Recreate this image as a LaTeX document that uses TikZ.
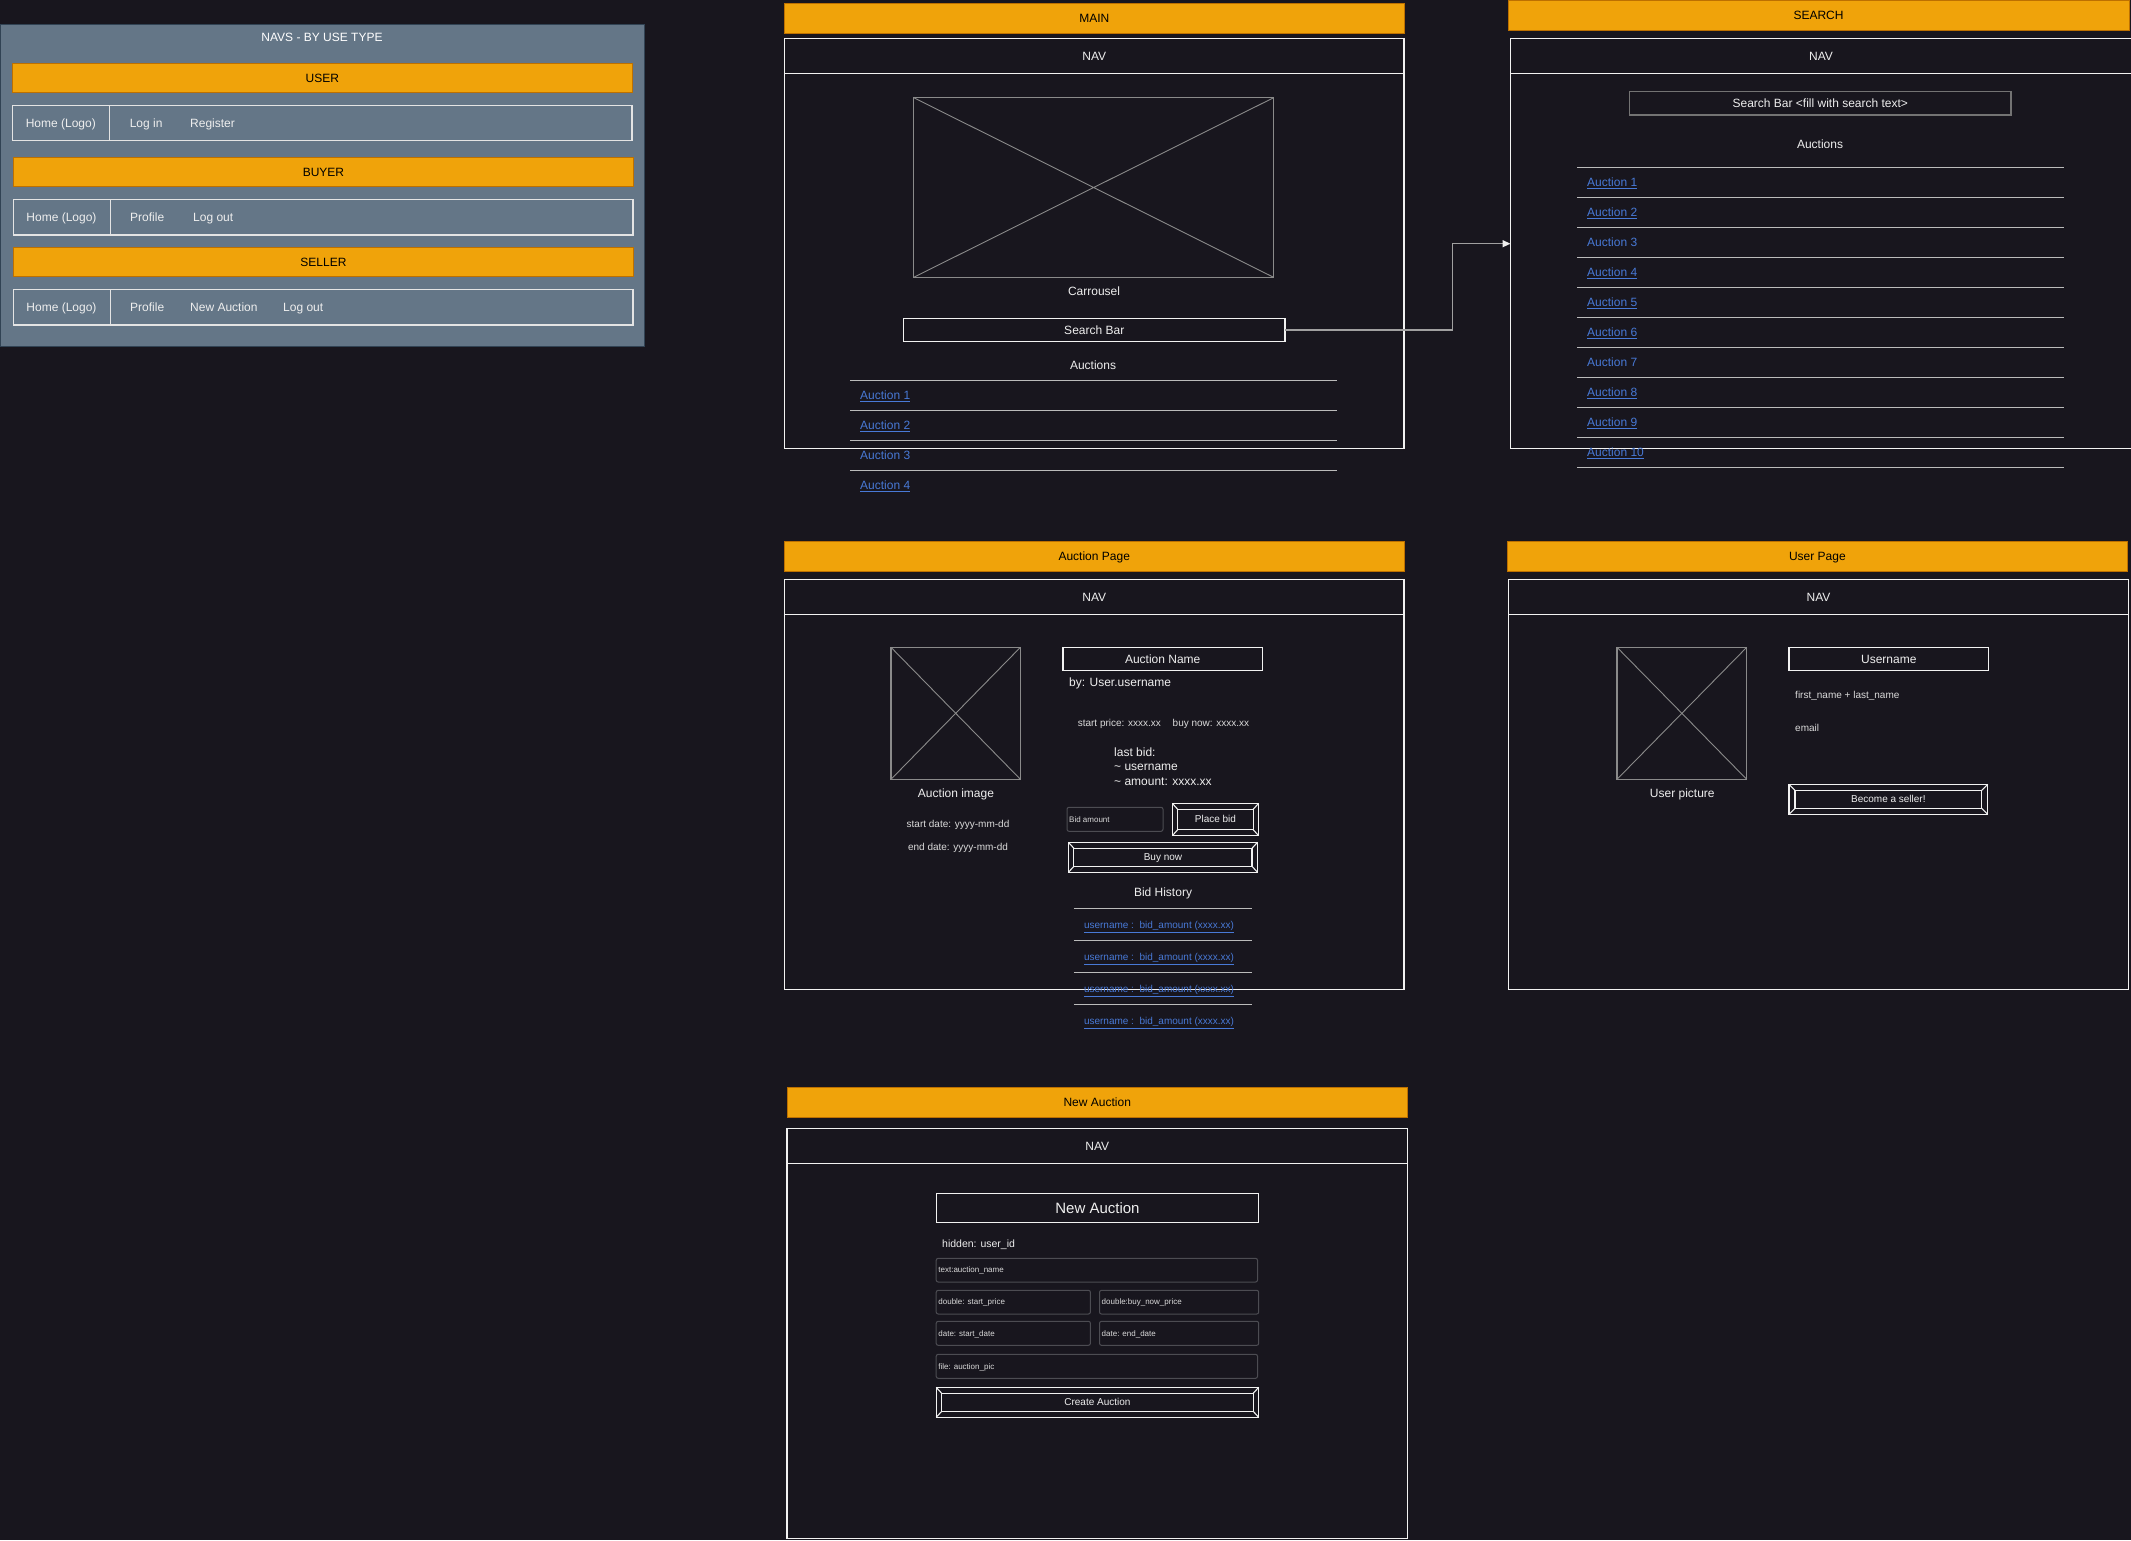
\documentclass[tikz,border=0pt]{standalone}
\usepackage{fontspec}
\setmainfont{Liberation Sans}
\usetikzlibrary{arrows.meta}

\definecolor{bg}{RGB}{24,22,30}
\definecolor{amber}{HTML}{F0A30A}
\definecolor{amberedge}{HTML}{BD7000}
\definecolor{slate}{HTML}{647687}
\definecolor{slateedge}{HTML}{314354}
\definecolor{ink}{HTML}{EEEEEE}
\definecolor{softink}{HTML}{DADADA}
\definecolor{linkblue}{RGB}{72,121,214}
\definecolor{rulegray}{HTML}{BBBBBB}
\definecolor{frameline}{HTML}{F2F2F2}
\definecolor{placeholder}{HTML}{8A8A8A}
\definecolor{fieldedge}{HTML}{4C4C52}
\definecolor{connline}{HTML}{A0A0A0}
\definecolor{rowline}{HTML}{E4E4E4}

\tikzset{
  f8/.style={font=\fontsize{8}{9.6}\selectfont, text height=7.2pt, text depth=1.7pt},
  f10/.style={font=\fontsize{10}{12}\selectfont, text height=9pt, text depth=2.1pt},
  f12/.style={font=\fontsize{12}{14}\selectfont, text height=10.9pt, text depth=2.5pt},
  f15/.style={font=\fontsize{15}{18}\selectfont, text height=13.6pt, text depth=3.2pt},
  box/.style={rectangle, inner sep=0pt, outer sep=0pt},
  panel/.style={box, fill=slate, draw=slateedge, line width=1pt},
  navrow/.style={box, fill=slate, draw=rowline, line width=1.2pt},
  titlebar/.style={box, fill=amber, draw=amberedge, line width=1pt, text=black, f12},
  frame/.style={box, draw=frameline, line width=1.1pt},
  navbar/.style={frame, text=ink, f12},
  imgbox/.style={box, draw=placeholder, line width=1.1pt},
  grayframe/.style={box, draw=placeholder!120, line width=1.2pt, text=ink, f12},
  headbox/.style={frame, line width=1.3pt, text=ink, f12},
  field/.style={box, draw=fieldedge, line width=1pt, rounded corners=2pt},
  btn/.style={frame, line width=1.3pt, text=ink, f10},
  btnline/.style={draw=frameline, line width=1.1pt},
  cross/.style={draw=placeholder, line width=0.9pt},
  txt/.style={inner sep=0pt, text=ink, f12},
  ltxt/.style={txt, anchor=west},
  small/.style={inner sep=0pt, text=softink, f10},
  lsmall/.style={small, anchor=west},
  tiny/.style={inner sep=0pt, anchor=west, text=softink, f8},
  linkitem/.style={inner sep=0pt, anchor=west, text=linkblue, f12},
  smalllink/.style={inner sep=0pt, anchor=west, text=linkblue, f10},
  listrule/.style={draw=rulegray, line width=1.5pt},
  conn/.style={draw=connline, line width=1.4pt, -{Triangle[length=8pt,width=7pt,color=ink]}},
}

% rectangle node given its two corners (x1,y1) (x2,y2)
\newcommand\wfbox[7]{%
  \pgfmathsetmacro\wfcx{(#3+#5)/2}\pgfmathsetmacro\wfcy{(#4+#6)/2}%
  \pgfmathsetmacro\wfw{#5-#3}\pgfmathsetmacro\wfh{#6-#4}%
  \node[#1, minimum width=\wfw pt, minimum height=\wfh pt] (#2) at (\wfcx,\wfcy) {#7};}

% inner frame and corner bevels of a button node
\newcommand\bevelframe[3]{%
  \draw[btnline] ([xshift=#2pt,yshift=-#3pt]#1.north west) rectangle ([xshift=-#2pt,yshift=#3pt]#1.south east);
  \draw[btnline] (#1.north west) -- ([xshift=#2pt,yshift=-#3pt]#1.north west)
                 (#1.north east) -- ([xshift=-#2pt,yshift=-#3pt]#1.north east)
                 (#1.south west) -- ([xshift=#2pt,yshift=#3pt]#1.south west)
                 (#1.south east) -- ([xshift=-#2pt,yshift=#3pt]#1.south east);}

% image placeholder diagonals
\newcommand\crossout[1]{%
  \draw[cross] (#1.north west) -- (#1.south east) (#1.north east) -- (#1.south west);}

\begin{document}
\begin{tikzpicture}[x=1pt,y=-1pt]
\fill[bg] (0,0) rectangle (2131,1540);
\useasboundingbox (0,0) rectangle (2131,1540);

% ---------------- navigation bars by user type ----------------
\wfbox{panel}{navspanel}{0}{24.5}{644}{346}{}
\node[txt, text=white] (navstitle) at (322,37.7) {NAVS - BY USE TYPE};

\wfbox{titlebar}{userbar}{12.6}{63.3}{632}{92.3}{USER}
\wfbox{navrow}{userrow}{12.6}{105.7}{632}{140.7}{}
\coordinate (ud) at (109.8,0);
\draw[draw=rowline, line width=1.2pt] (ud |- userrow.north) -- (ud |- userrow.south);
\node[txt] (uhome) at (60.8,123.2) {Home (Logo)};
\node[ltxt] (ulogin) at (129.6,123.2) {Log in};
\node[ltxt] (ureg) at (190,123.2) {Register};

\wfbox{titlebar}{buyerbar}{13.9}{157.7}{633}{186.7}{BUYER}
\wfbox{navrow}{buyerrow}{13.5}{199.3}{633}{235}{}
\coordinate (bd) at (110.7,0);
\draw[draw=rowline, line width=1.2pt] (bd |- buyerrow.north) -- (bd |- buyerrow.south);
\node[txt] (bhome) at (61.5,217.2) {Home (Logo)};
\node[ltxt] (bprof) at (130,217.2) {Profile};
\node[ltxt] (bout) at (193,217.2) {Log out};

\wfbox{titlebar}{sellerbar}{13.9}{247.3}{633}{276.7}{SELLER}
\wfbox{navrow}{sellerrow}{13.5}{289.3}{633}{325}{}
\draw[draw=rowline, line width=1.2pt] (bd |- sellerrow.north) -- (bd |- sellerrow.south);
\node[txt] (shome) at (61.5,307.2) {Home (Logo)};
\node[ltxt] (sprof) at (130,307.2) {Profile};
\node[ltxt] (snew) at (190,307.2) {New Auction};
\node[ltxt] (sout) at (283,307.2) {Log out};

% ---------------- main page ----------------
\wfbox{titlebar}{mainbar}{784.5}{3.3}{1404}{33.3}{MAIN}
\wfbox{frame}{mainpage}{784.5}{38.7}{1404}{448.3}{}
\wfbox{navbar}{mainnav}{784.5}{38.7}{1404}{73.3}{NAV}
\wfbox{imgbox}{carousel}{913.8}{97.7}{1273.6}{277.3}{}
\crossout{carousel}
\node[txt] (carousellbl) at (1094,291) {Carrousel};
\wfbox{headbox}{searchbar}{903.5}{318.3}{1285}{341.3}{Search Bar}
\node[txt] (mainauctions) at (1093,365.3) {Auctions};
\foreach \j in {0,...,3} {
  \draw[listrule] (850,380.5+30*\j) -- (1336.6,380.5+30*\j);
}
\node[linkitem] (ma1) at (860,395.5) {\underline{Auction 1}};
\node[linkitem] (ma2) at (860,425.5) {\underline{Auction 2}};
\node[linkitem] (ma3) at (860,455.5) {Auction 3};
\node[linkitem] (ma4) at (860,485.5) {\underline{Auction 4}};

% ---------------- search page ----------------
\wfbox{titlebar}{searchtitle}{1508}{0.5}{2129}{30.7}{SEARCH}
\wfbox{frame}{searchpage}{1510.5}{38.7}{2131.5}{448.7}{}
\wfbox{navbar}{searchnav}{1510.5}{38.7}{2131.5}{73.3}{NAV}
\wfbox{grayframe}{searchinput}{1629.6}{91.3}{2011}{115}{Search Bar <fill with search text>}
\node[txt] (searchauctions) at (1820,144) {Auctions};
\foreach \j in {0,...,10} {
  \draw[listrule] (1577,167.7+30*\j) -- (2064,167.7+30*\j);
}
\foreach \k in {1,2,4,5,6,8,9,10} {
  \node[linkitem] (sa\k) at (1587,152.5+30*\k) {\underline{Auction \k}};
}
\node[linkitem] (sa3) at (1587,242.5) {Auction 3};
\node[linkitem] (sa7) at (1587,362.5) {Auction 7};

% search bar leads to the search page
\coordinate (searchbend) at (1452.3,243.7);
\draw[conn] (searchbar.east) -| (searchbend) -- (searchpage.west);

% ---------------- auction page ----------------
\wfbox{titlebar}{auctionbar}{784.5}{541.7}{1404}{571.3}{Auction Page}
\wfbox{frame}{auctionpage}{784.5}{579.3}{1404}{989.3}{}
\wfbox{navbar}{auctionnav}{784.5}{579.3}{1404}{614.3}{NAV}
\wfbox{imgbox}{auctionimg}{891}{647.3}{1020.4}{779.3}{}
\crossout{auctionimg}
\node[txt] (auctionimglbl) at (956,793.3) {Auction image};
\node[small] (startdate) at (958,823.7) {start date: yyyy-mm-dd};
\node[small] (enddate) at (958,846.7) {end date: yyyy-mm-dd};
\wfbox{headbox}{auctionname}{1063}{647.3}{1262.4}{670.3}{Auction Name}
\node[ltxt] (byuser) at (1069,682.3) {by: User.username};
\node[lsmall] (pricestart) at (1077.6,723) {start price: xxxx.xx};
\node[lsmall] (pricebuy) at (1172.5,723) {buy now: xxxx.xx};
\node[ltxt] (lastbid) at (1114,752) {last bid:};
\node[ltxt] (lastuser) at (1114,766.5) {\textasciitilde{} username};
\node[ltxt] (lastamount) at (1114,781.3) {\textasciitilde{} amount: xxxx.xx};
\wfbox{field}{bidamount}{1067}{807.3}{1163}{831.3}{}
\node[tiny] (bidamountlbl) at (1069,819.3) {Bid amount};
\wfbox{btn}{placebid}{1172.7}{803.8}{1258.2}{835.2}{Place bid}
\bevelframe{placebid}{5}{5.5}
\wfbox{btn}{buynow}{1068.4}{842.3}{1257.5}{872.3}{Buy now}
\bevelframe{buynow}{5.5}{6}
\node[txt] (bidhistory) at (1163,892) {Bid History};
\foreach \j in {0,...,3} {
  \draw[listrule] (1073.8,908.7+32*\j) -- (1251.7,908.7+32*\j);
  \node[smalllink] (hist\j) at (1083.8,925.3+32*\j) {\underline{username :\ \ bid\_amount (xxxx.xx)}};
}

% ---------------- user page ----------------
\wfbox{titlebar}{userpagebar}{1507}{541.7}{2127.8}{571.3}{User Page}
\wfbox{frame}{userpage}{1508.5}{579.3}{2128.6}{989.3}{}
\wfbox{navbar}{usernav}{1508.5}{579.3}{2128.6}{614.3}{NAV}
\wfbox{imgbox}{userimg}{1617}{647.3}{1746.7}{779.3}{}
\crossout{userimg}
\node[txt] (userimglbl) at (1682.3,793) {User picture};
\wfbox{headbox}{usernamebox}{1789}{647.3}{1988.5}{670.3}{Username}
\node[lsmall] (fullname) at (1795,694.7) {first\_name + last\_name};
\node[lsmall] (email) at (1795,727.7) {email};
\wfbox{btn}{becomeseller}{1789}{784.3}{1987.7}{814.3}{Become a seller!}
\bevelframe{becomeseller}{6}{6}

% ---------------- new auction page ----------------
\wfbox{titlebar}{newbar}{787}{1087.3}{1407.5}{1117.3}{New Auction}
\wfbox{frame}{newpage}{787}{1128.3}{1407.5}{1538.3}{}
\wfbox{navbar}{newnav}{787}{1128.3}{1407.5}{1163.3}{NAV}
\wfbox{headbox}{newhead}{936.2}{1193.3}{1258.7}{1222.3}{}
\node[txt, f15] (newheadlbl) at (newhead) {New Auction};
\node[ltxt, font=\fontsize{10.5}{12.6}\selectfont] (hiddenid) at (942,1243.7) {hidden: user\_id};
\wfbox{field}{fname}{936.2}{1258.3}{1257.5}{1282}{}
\node[tiny] (fnamelbl) at ([xshift=2pt]fname.west) {text:auction\_name};
\wfbox{field}{fstart}{936.2}{1290.3}{1090.4}{1314}{}
\node[tiny] (fstartlbl) at ([xshift=2pt]fstart.west) {double: start\_price};
\wfbox{field}{fbuy}{1099.5}{1290.3}{1258.7}{1314}{}
\node[tiny] (fbuylbl) at ([xshift=2pt]fbuy.west) {double:buy\_now\_price};
\wfbox{field}{fsdate}{936.2}{1321.3}{1090.4}{1345.3}{}
\node[tiny] (fsdatelbl) at ([xshift=2pt]fsdate.west) {date: start\_date};
\wfbox{field}{fedate}{1099.5}{1321.3}{1258.7}{1345.3}{}
\node[tiny] (fedatelbl) at ([xshift=2pt]fedate.west) {date: end\_date};
\wfbox{field}{fpic}{936.2}{1354.3}{1257.5}{1378.3}{}
\node[tiny] (fpiclbl) at ([xshift=2pt]fpic.west) {file: auction\_pic};
\wfbox{btn}{createbtn}{936.2}{1387.3}{1258.7}{1417.3}{Create Auction}
\bevelframe{createbtn}{5.5}{6}
\end{tikzpicture}
\end{document}
